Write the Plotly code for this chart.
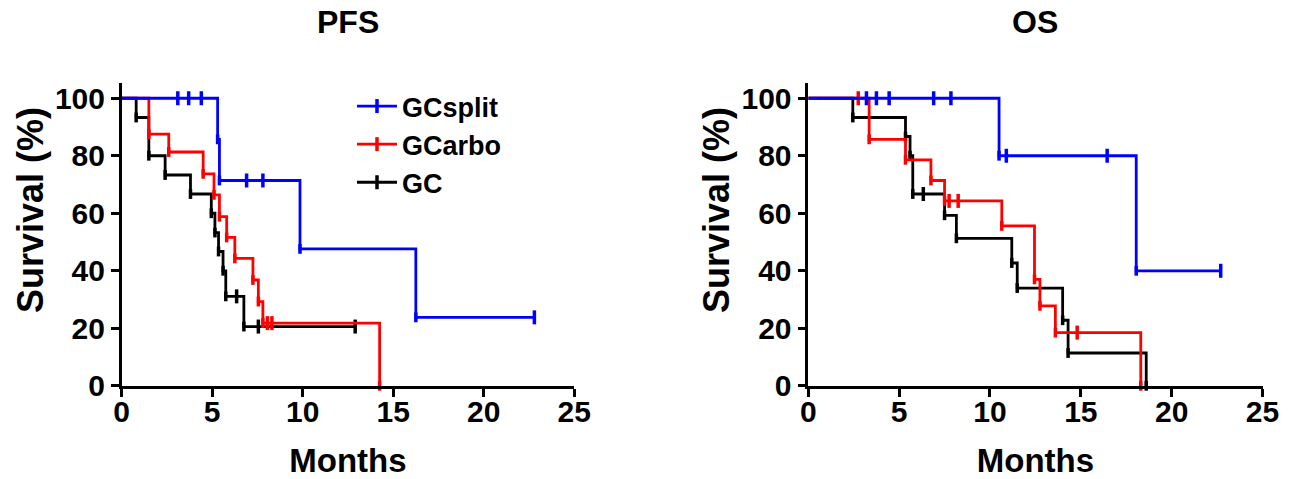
import plotly.graph_objects as go

# ---------------- data ----------------
series_names = ["GCsplit", "GCarbo", "GC"]
series_colors = ["#0000FF", "#FF0000", "#000000"]

# PFS: step times (months) and survival (%) after each step
pfs_gcsplit_t = [0, 5.3, 5.4, 9.85, 16.25, 22.8]
pfs_gcsplit_s = [100, 85.7, 71.4, 47.6, 23.8, 23.8]
pfs_gcsplit_cens_t = [3.1, 3.7, 4.4, 6.9, 7.8, 22.8]
pfs_gcsplit_cens_s = [100, 100, 100, 71.4, 71.4, 23.8]

pfs_gcarbo_t = [0, 1.5, 2.6, 4.5, 5.1, 5.4, 5.8, 6.25, 7.25, 7.55, 7.8, 14.25]
pfs_gcarbo_s = [100, 87.5, 81.3, 73.7, 66.4, 58.8, 51.6, 44.3, 36.8, 29.3, 21.8, 0]
pfs_gcarbo_cens_t = [8.05, 8.3]
pfs_gcarbo_cens_s = [21.8, 21.8]

pfs_gc_t = [0, 0.8, 1.5, 2.4, 3.8, 4.95, 5.15, 5.35, 5.6, 5.75, 6.75, 12.9]
pfs_gc_s = [100, 93.3, 80, 73.3, 66.7, 60, 53.3, 46.7, 40, 31.1, 20.6, 20.6]
pfs_gc_cens_t = [6.35, 7.55, 12.9]
pfs_gc_cens_s = [31.1, 20.6, 20.6]

# OS
os_gcsplit_t = [0, 10.5, 18.05, 22.7]
os_gcsplit_s = [100, 80, 40, 40]
os_gcsplit_cens_t = [3.2, 3.75, 4.45, 6.9, 7.85, 10.9, 16.45, 22.7]
os_gcsplit_cens_s = [100, 100, 100, 100, 100, 80, 80, 40]

os_gcarbo_t = [0, 3.35, 5.35, 6.75, 7.5, 10.65, 12.45, 12.75, 13.6, 18.3]
os_gcarbo_s = [100, 85.7, 78.6, 71.4, 64.3, 55.6, 37.0, 27.8, 18.5, 0]
os_gcarbo_cens_t = [2.75, 7.75, 8.25, 14.8]
os_gcarbo_cens_s = [100, 64.3, 64.3, 18.5]

os_gc_t = [0, 2.45, 5.35, 5.6, 5.75, 7.5, 8.15, 11.2, 11.5, 14.0, 14.3, 18.6]
os_gc_s = [100, 93.3, 86.7, 80, 66.7, 59.3, 51.3, 42.7, 34.0, 22.8, 11.4, 0]
os_gc_cens_t = [6.33]
os_gc_cens_s = [66.7]

x_ticks = [0, 5, 10, 15, 20, 25]
y_ticks = [0, 20, 40, 60, 80, 100]
panel_titles = ["PFS", "OS"]
x_title = "Months"
y_title = "Survival (%)"

panels = [
    [(pfs_gcsplit_t, pfs_gcsplit_s, pfs_gcsplit_cens_t, pfs_gcsplit_cens_s),
     (pfs_gcarbo_t, pfs_gcarbo_s, pfs_gcarbo_cens_t, pfs_gcarbo_cens_s),
     (pfs_gc_t, pfs_gc_s, pfs_gc_cens_t, pfs_gc_cens_s)],
    [(os_gcsplit_t, os_gcsplit_s, os_gcsplit_cens_t, os_gcsplit_cens_s),
     (os_gcarbo_t, os_gcarbo_s, os_gcarbo_cens_t, os_gcarbo_cens_s),
     (os_gc_t, os_gc_s, os_gc_cens_t, os_gc_cens_s)],
]

# ---------------- figure ----------------
W, H = 1291, 479
FONT = "Arial, 'Liberation Sans', sans-serif"
fig = go.Figure()

xdomains = [[121.7 / W, 574.2 / W], [808.3 / W, 1262.5 / W]]
ydomain = [(H - 385.8) / H, (H - 83) / H]
ytitle_x = [30, 716]

for p, panel in enumerate(panels):
    xa = "x" if p == 0 else "x2"
    ya = "y" if p == 0 else "y2"
    for i in [2, 1, 0]:
        t, s, ct, cs = panel[i]
        col = series_colors[i]
        fig.add_trace(go.Scatter(
            x=t, y=s, mode="lines", line=dict(color=col, width=2.8, shape="hv"),
            xaxis=xa, yaxis=ya, showlegend=False, hoverinfo="skip", cliponaxis=False))
        ev_t = [t[k] for k in range(1, len(t)) if s[k] != s[k - 1]]
        ev_s = [s[k] for k in range(1, len(t)) if s[k] != s[k - 1]]
        fig.add_trace(go.Scatter(
            x=ev_t, y=ev_s, mode="markers",
            marker=dict(symbol="line-ns", size=7, line=dict(color=col, width=3.5)),
            xaxis=xa, yaxis=ya, showlegend=False, hoverinfo="skip", cliponaxis=False))
        fig.add_trace(go.Scatter(
            x=ct, y=cs, mode="markers",
            marker=dict(symbol="line-ns", size=10, line=dict(color=col, width=3.5)),
            xaxis=xa, yaxis=ya, showlegend=False, hoverinfo="skip", cliponaxis=False))

# legend entries
for i in range(3):
    fig.add_trace(go.Scatter(
        x=[None], y=[None], mode="lines+markers", name=series_names[i],
        line=dict(color=series_colors[i], width=2.8),
        marker=dict(symbol="line-ns", size=10, line=dict(color=series_colors[i], width=3.5)),
        xaxis="x", yaxis="y", showlegend=True))

axis_common = dict(
    showgrid=False, zeroline=False, showline=True, linecolor="black", linewidth=2.5,
    ticks="outside", ticklen=8, tickwidth=2.5, tickcolor="black",
    tickfont=dict(family=FONT, size=30, color="black", weight="bold"),
    mirror=False, automargin=False,
)

for p in range(2):
    sfx = "" if p == 0 else "2"
    fig.update_layout(**{
        "xaxis" + sfx: dict(axis_common, domain=xdomains[p], range=[0, 25],
                            tickvals=x_ticks, anchor="y" + sfx, ticklabelstandoff=-11,
                            title=dict(text=x_title, standoff=24,
                                       font=dict(family=FONT, size=33, color="black", weight="bold"))),
        "yaxis" + sfx: dict(axis_common, domain=ydomain, range=[0, 105.3],
                            tickvals=y_ticks, anchor="x" + sfx),
    })

annotations = []
for p in range(2):
    cx = (xdomains[p][0] + xdomains[p][1]) / 2
    annotations.append(dict(text=panel_titles[p], x=cx, y=1 - 22 / H, xref="paper", yref="paper",
                            xanchor="center", yanchor="middle", showarrow=False,
                            font=dict(family=FONT, size=32, color="black", weight="bold")))
    annotations.append(dict(text=y_title, x=ytitle_x[p] / W, y=1 - 210 / H, xref="paper", yref="paper",
                            xanchor="center", yanchor="middle", showarrow=False, textangle=-90,
                            font=dict(family=FONT, size=36, color="black", weight="bold")))

fig.update_layout(
    width=W, height=H, margin=dict(l=0, r=0, t=0, b=0, autoexpand=False),
    paper_bgcolor="white", plot_bgcolor="white",
    annotations=annotations,
    legend=dict(x=352 / W, y=1 - 82 / H, xanchor="left", yanchor="top",
                font=dict(family=FONT, size=27, color="black", weight="bold"),
                bgcolor="rgba(0,0,0,0)", itemwidth=40, tracegroupgap=0),
    showlegend=True,
)

fig.write_html("out.html", config={"displayModeBar": False},
               post_script="document.body.style.margin='0px';document.body.style.overflow='hidden';")
